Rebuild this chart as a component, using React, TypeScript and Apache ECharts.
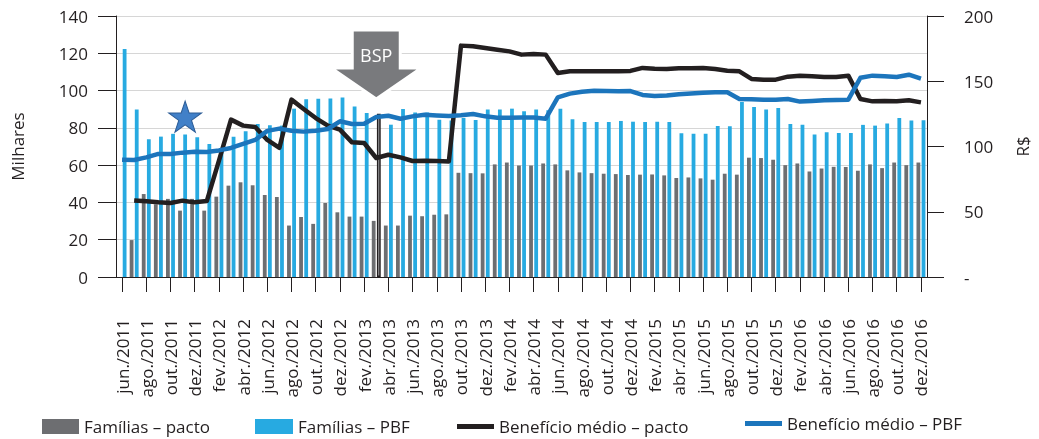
import React, { useEffect, useRef } from "react";
import * as echarts from "echarts";

const months = [
  "jun./2011", "jul./2011", "ago./2011", "set./2011", "out./2011", "nov./2011", "dez./2011",
  "jan./2012", "fev./2012", "mar./2012", "abr./2012", "mai./2012", "jun./2012", "jul./2012", "ago./2012", "set./2012", "out./2012", "nov./2012", "dez./2012",
  "jan./2013", "fev./2013", "mar./2013", "abr./2013", "mai./2013", "jun./2013", "jul./2013", "ago./2013", "set./2013", "out./2013", "nov./2013", "dez./2013",
  "jan./2014", "fev./2014", "mar./2014", "abr./2014", "mai./2014", "jun./2014", "jul./2014", "ago./2014", "set./2014", "out./2014", "nov./2014", "dez./2014",
  "jan./2015", "fev./2015", "mar./2015", "abr./2015", "mai./2015", "jun./2015", "jul./2015", "ago./2015", "set./2015", "out./2015", "nov./2015", "dez./2015",
  "jan./2016", "fev./2016", "mar./2016", "abr./2016", "mai./2016", "jun./2016", "jul./2016", "ago./2016", "set./2016", "out./2016", "nov./2016", "dez./2016",
];

// Famílias – pacto (milhares)
const familiasPacto = [
  null, 19.8, 44.5, 39.0, 41.9, 35.6, 41.9,
  35.6, 43.1, 49.0, 50.8, 49.2, 44.0, 42.9, 27.6, 32.2, 28.5, 39.7, 34.7,
  32.4, 32.4, 30.1, 27.6, 27.6, 32.9, 32.6, 33.4, 33.6, 55.9, 55.7, 55.6,
  60.4, 61.4, 59.8, 59.8, 60.9, 60.4, 57.2, 56.1, 55.7, 55.4, 55.2, 54.7,
  54.9, 55.0, 54.5, 53.1, 53.4, 52.9, 52.2, 55.4, 54.9, 64.0, 63.8, 62.9,
  60.0, 60.9, 56.6, 58.2, 59.1, 59.0, 57.0, 60.4, 58.4, 61.4, 60.0, 61.4,
];

// Famílias – PBF (milhares)
const familiasPBF = [
  122.3, 89.8, 73.9, 75.3, 76.8, 76.4, 75.0,
  71.4, 69.0, 75.2, 78.2, 82.1, 81.4, 81.2, 90.3, 95.3, 95.6, 95.8, 96.3,
  91.5, 88.0, 87.6, 81.7, 90.1, 88.3, 88.3, 84.4, 84.0, 85.3, 84.2, 89.8,
  89.8, 90.3, 88.9, 89.8, 89.4, 90.3, 84.6, 83.2, 83.2, 83.2, 83.7, 83.3,
  83.2, 83.3, 83.2, 77.1, 76.9, 76.9, 81.0, 80.9, 93.9, 91.2, 89.8, 90.6,
  82.1, 81.7, 76.4, 77.6, 77.3, 77.3, 81.6, 81.2, 82.3, 85.3, 83.9, 84.1,
];

// Benefício médio – pacto (R$)
const beneficioPacto = [
  null, 58.7, 58.0, 57.2, 56.7, 58.5, 57.2,
  58.2, 89.0, 120.6, 116.0, 115.0, 105.0, 99.0, 135.9, 128.7, 121.8, 116.0, 112.9,
  103.2, 102.7, 91.2, 93.7, 91.7, 88.9, 89.1, 88.8, 88.6, 177.3, 176.8, 175.5,
  174.2, 172.9, 170.4, 170.9, 170.4, 156.3, 157.6, 157.6, 157.6, 157.6, 157.6, 157.9,
  160.2, 159.6, 159.4, 159.9, 159.9, 160.2, 159.4, 158.1, 157.6, 151.8, 151.2, 151.2,
  153.5, 154.3, 153.8, 153.3, 153.3, 154.3, 136.4, 134.6, 134.9, 134.6, 135.4, 133.8,
];

// Benefício médio – PBF (R$)
const beneficioPBF = [
  89.9, 89.7, 91.7, 94.3, 94.3, 95.3, 96.0,
  95.8, 97.0, 98.9, 102.0, 105.0, 112.0, 113.7, 112.1, 111.4, 112.1, 113.4, 119.3,
  117.2, 117.5, 122.6, 123.6, 121.3, 123.1, 124.4, 123.8, 123.4, 123.9, 124.9, 123.1,
  122.1, 122.1, 122.3, 122.3, 121.3, 137.7, 140.5, 142.0, 142.8, 142.5, 142.3, 142.5,
  139.5, 138.7, 139.0, 140.0, 140.7, 141.2, 141.5, 141.5, 136.4, 136.2, 135.9, 135.9,
  136.4, 134.4, 134.9, 135.4, 135.6, 135.9, 152.7, 154.3, 153.8, 153.3, 155.0, 152.0,
];

const bspIndex = 21; // mar./2013
const starIndex = 5; // nov./2011
const starValue = 86;

const NAME_PACTO = "Famílias – pacto";
const NAME_PBF = "Famílias – PBF";
const NAME_BEN_PACTO = "Benefício médio – pacto";
const NAME_BEN_PBF = "Benefício médio – PBF";

const STAR_PATH =
  "path://M50,0 L61.8,35.1 L98.9,35.1 L68.9,57 L80.3,92.1 L50,70.4 L19.7,92.1 L31.1,57 L1.1,35.1 L38.2,35.1 Z";

export default function App() {
  const ref = useRef<HTMLDivElement>(null);

  useEffect(() => {
    const chart = echarts.init(ref.current!, null, { renderer: "svg" });
    const font = "'Open Sans', 'Noto Sans', sans-serif";
    const ink = "#231f20";
    const textStyle = { fontFamily: font, fontSize: 17, color: ink };

    const pbfData = familiasPBF.map((v, i) =>
      i === bspIndex
        ? { value: v, itemStyle: { color: "#c2c4c6", borderColor: ink, borderWidth: 1.5 } }
        : v
    );

    const option: any = {
      animation: false,
      textStyle: { fontFamily: font },
      grid: { left: 116, right: 105, top: 16, bottom: 162, containLabel: false },
      legend: [
        {
          left: 42, top: 418, padding: 0, itemWidth: 37, itemHeight: 15,
          data: [{ name: NAME_PACTO, icon: "rect" }], textStyle,
        },
        {
          left: 255, top: 418, padding: 0, itemWidth: 38, itemHeight: 15,
          data: [{ name: NAME_PBF, icon: "rect" }], textStyle,
        },
        {
          left: 457, top: 418, padding: 0, itemWidth: 37, itemHeight: 5,
          data: [{ name: NAME_BEN_PACTO, icon: "rect" }], textStyle,
        },
        {
          left: 745, top: 415, padding: 0, itemWidth: 37, itemHeight: 5,
          data: [{ name: NAME_BEN_PBF, icon: "rect" }], textStyle,
        },
      ],
      xAxis: {
        type: "category",
        data: months,
        boundaryGap: true,
        axisLine: { show: true, lineStyle: { color: ink, width: 1 } },
        axisTick: { show: true, alignWithLabel: true, interval: 1, length: 15, lineStyle: { color: ink, width: 1 } },
        axisLabel: { interval: 1, rotate: 90, margin: 42, ...textStyle },
        splitLine: { show: false },
      },
      yAxis: [
        {
          type: "value",
          min: 0, max: 140, interval: 20,
          name: "Milhares",
          nameLocation: "middle",
          nameGap: 90,
          nameTextStyle: textStyle,
          axisLine: { show: true, lineStyle: { color: ink, width: 1 } },
          axisTick: { show: true, length: 18, lineStyle: { color: ink, width: 1 } },
          axisLabel: { margin: 28, ...textStyle },
          splitLine: { show: true, lineStyle: { color: "#d6d6d6", width: 1.2 } },
        },
        {
          type: "value",
          min: 0, max: 200, interval: 50,
          name: "R$",
          nameLocation: "middle",
          nameGap: 87,
          nameTextStyle: textStyle,
          position: "right",
          axisLine: { show: true, lineStyle: { color: ink, width: 1 } },
          axisTick: { show: true, length: 17, lineStyle: { color: ink, width: 1 } },
          axisLabel: {
            margin: 37, ...textStyle,
            formatter: (v: number) => (v === 0 ? "-" : String(v)),
          },
          splitLine: { show: false },
        },
      ],
      series: [
        {
          name: NAME_PACTO,
          type: "bar",
          data: familiasPacto,
          barWidth: 3.8,
          barGap: "35%",
          itemStyle: { color: "#6d6e71" },
        },
        {
          name: NAME_PBF,
          type: "bar",
          data: pbfData,
          barWidth: 3.8,
          barGap: "35%",
          itemStyle: { color: "#27aae1" },
          markPoint: {
            symbol: STAR_PATH,
            symbolSize: [33, 31],
            silent: true,
            label: { show: false },
            itemStyle: { color: "#4180c8", borderColor: "#2c5c96", borderWidth: 1 },
            data: [{ coord: [starIndex, starValue] }],
          },
        },
        {
          name: NAME_BEN_PACTO,
          type: "line",
          yAxisIndex: 1,
          data: beneficioPacto,
          showSymbol: false,
          symbol: "none",
          lineStyle: { color: ink, width: 4.5, join: "round" },
          itemStyle: { color: ink },
        },
        {
          name: NAME_BEN_PBF,
          type: "line",
          yAxisIndex: 1,
          data: beneficioPBF,
          showSymbol: false,
          symbol: "none",
          lineStyle: { color: "#1c75bc", width: 4.5, join: "round" },
          itemStyle: { color: "#1c75bc" },
        },
      ],
    };

    chart.setOption(option);

    const pt = chart.convertToPixel({ gridIndex: 0 }, [bspIndex, 0]) as number[];
    const cx = pt[0];
    const top = 30;
    const shaftBottom = 68;
    const tip = 99;
    chart.setOption({
      graphic: [
        {
          type: "polygon",
          z: 100,
          shape: {
            points: [
              [cx - 24, top], [cx + 24, top], [cx + 24, shaftBottom], [cx + 45, shaftBottom],
              [cx, tip], [cx - 45, shaftBottom], [cx - 24, shaftBottom],
            ],
          },
          style: { fill: "#797a7d", stroke: "#ffffff", lineWidth: 3 },
        },
        {
          type: "text",
          z: 101,
          x: cx,
          y: 55,
          style: {
            text: "BSP",
            fill: "#ffffff",
            font: `18px ${font}`,
            textAlign: "center",
            textVerticalAlign: "middle",
          },
        },
      ],
    });

    return () => chart.dispose();
  }, []);

  return (
    <div
      ref={ref}
      style={{ position: "fixed", left: 0, top: 0, width: 1039, height: 439 }}
    />
  );
}
